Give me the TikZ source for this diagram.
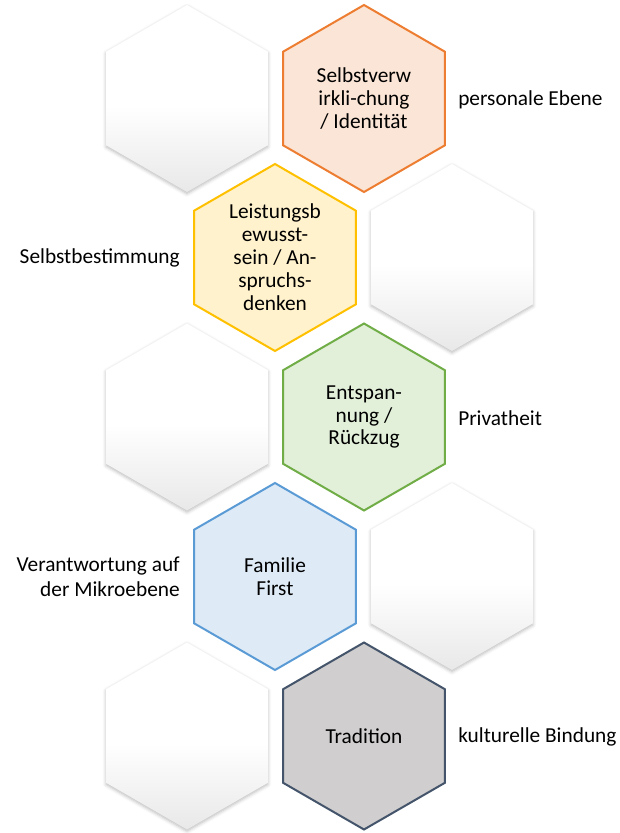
\documentclass[tikz,border=0pt]{standalone}
\usepackage{fontspec}
\setmainfont{Carlito}
\usetikzlibrary{shadows.blur}
\definecolor{orangeline}{HTML}{ED7D31}
\definecolor{orangefill}{HTML}{FBE5D6}
\definecolor{yellowline}{HTML}{FFC000}
\definecolor{yellowfill}{HTML}{FFF2CC}
\definecolor{greenline}{HTML}{70AD47}
\definecolor{greenfill}{HTML}{E2F0D9}
\definecolor{blueline}{HTML}{5B9BD5}
\definecolor{bluefill}{HTML}{DEEBF7}
\definecolor{slateline}{HTML}{44546A}
\definecolor{slatefill}{HTML}{D0CECE}
% white in the upper part, fading to light grey towards the bottom
\pgfdeclareverticalshading{blankfade}{100bp}{color(0bp)=(black!9); color(25bp)=(black!9); color(48bp)=(white); color(100bp)=(white)}
\begin{document}
\begin{tikzpicture}[x=0.75pt,y=-0.75pt,
  hexedge/.style={line width=1.5pt,line join=miter},
  orangehex/.style={hexedge,draw=orangeline,fill=orangefill},
  yellowhex/.style={hexedge,draw=yellowline,fill=yellowfill},
  greenhex/.style={hexedge,draw=greenline,fill=greenfill},
  bluehex/.style={hexedge,draw=blueline,fill=bluefill},
  slatehex/.style={hexedge,draw=slateline,fill=slatefill},
  blankhex/.style={shading=blankfade,
    blur shadow={shadow xshift=0pt,shadow yshift=-1.2pt,shadow blur radius=2.6pt,shadow opacity=28}},
  hexlabel/.style={align=center,font=\fontsize{16}{17.2}\selectfont,inner sep=0pt},
  sidelabel/.style={font=\fontsize{16}{18.8}\selectfont,inner sep=0pt},
]
\useasboundingbox (0,0) rectangle (620,833);
\def\hexR{93.5}
% hexagon outline around a centre point
\def\hexagon#1#2{\path[#1] #2 +(90:\hexR) -- +(30:\hexR) -- +(-30:\hexR) -- +(-90:\hexR) -- +(-150:\hexR) -- +(150:\hexR) -- cycle;}

% centres of the honeycomb cells
\coordinate (c1) at (364,98.5);
\coordinate (b1) at (187,98.5);
\coordinate (c2) at (275,257.5);
\coordinate (b2) at (452,257.5);
\coordinate (c3) at (364,417);
\coordinate (b3) at (187,417);
\coordinate (c4) at (275,576.5);
\coordinate (b4) at (452,576.5);
\coordinate (c5) at (364,736);
\coordinate (b5) at (187,736);

% empty cells
\hexagon{blankhex}{(b1)}
\hexagon{blankhex}{(b2)}
\hexagon{blankhex}{(b3)}
\hexagon{blankhex}{(b4)}
\hexagon{blankhex}{(b5)}

% coloured cells
\hexagon{orangehex}{(c1)}
\hexagon{yellowhex}{(c2)}
\hexagon{greenhex}{(c3)}
\hexagon{bluehex}{(c4)}
\hexagon{slatehex}{(c5)}

\node[hexlabel] (selbstverw) at (c1) {Selbstverw\\irkli-chung\\/ Identität};
\node[hexlabel] (leistung) at ([yshift=0.5]c2) {Leistungsb\\ewusst-\\sein / An-\\spruchs-\\denken};
\node[hexlabel] (entspannung) at (c3) {Entspan-\\nung /\\Rückzug};
\node[hexlabel] (familie) at (c4) {Familie\\First};
\node[hexlabel] (tradition) at (c5) {Tradition};

% level descriptions beside the cells
\node[sidelabel,anchor=west] (personal) at (458,100) {personale Ebene};
\node[sidelabel,anchor=east] (bestimmung) at (180,258) {Selbstbestimmung};
\node[sidelabel,anchor=west] (privat) at (458,418) {Privatheit};
\node[sidelabel,anchor=east,align=right] (verantwortung) at (180,577) {Verantwortung auf\\der Mikroebene};
\node[sidelabel,anchor=west] (kultur) at (458,737) {kulturelle Bindung};
\end{tikzpicture}
\end{document}
